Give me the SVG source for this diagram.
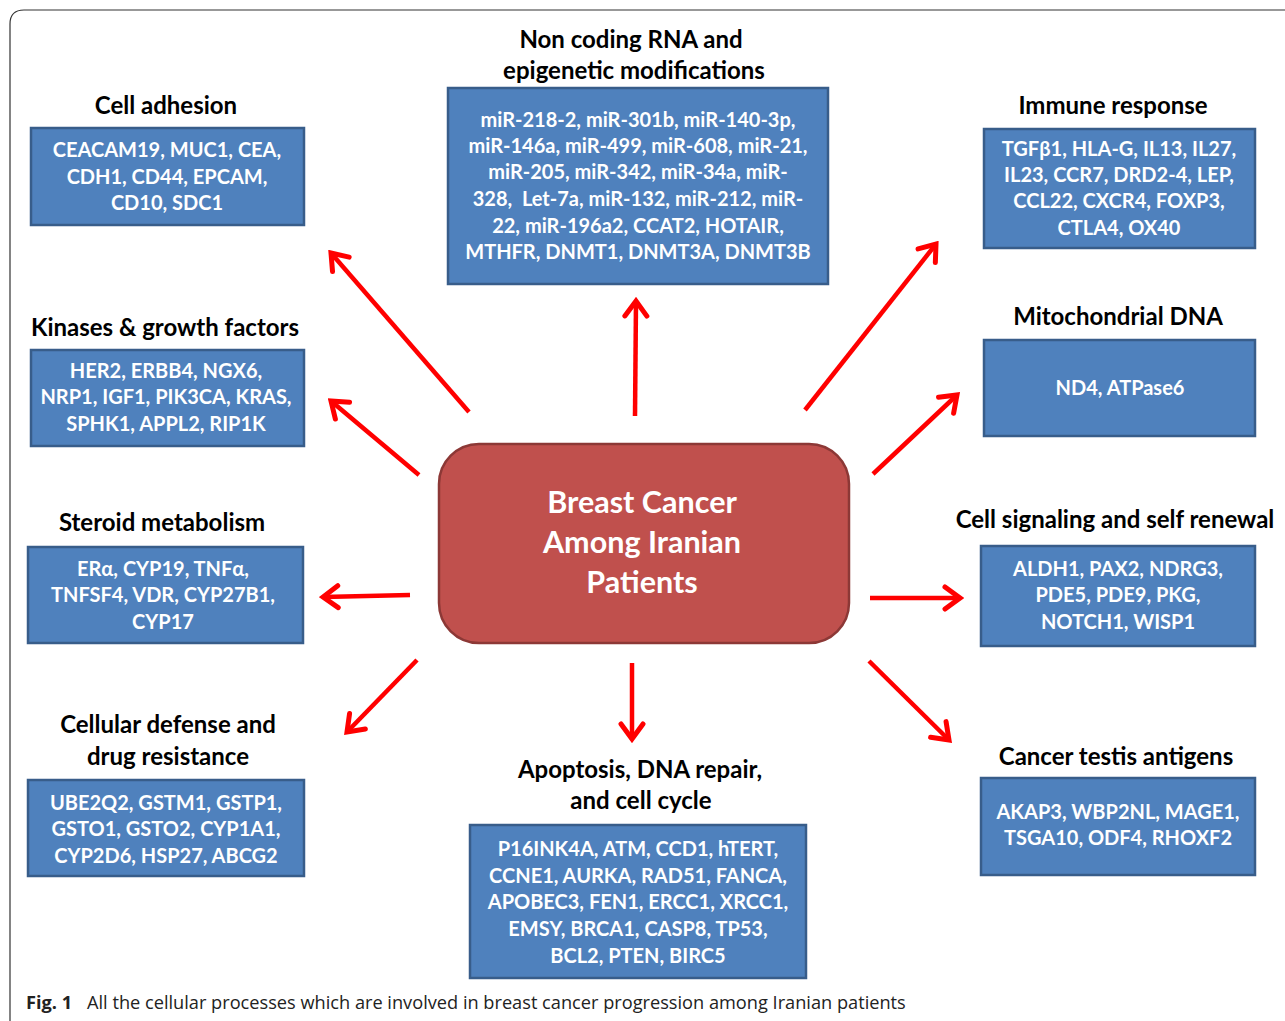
<svg xmlns="http://www.w3.org/2000/svg" width="1285" height="1021" viewBox="0 0 1285 1021">
<defs>
<style>
.box{fill:#4f81bd;stroke:#385d8a;stroke-width:2.5}
.bt{font-family:Lato,"Open Sans",sans-serif;font-weight:bold;font-size:20px;fill:#ffffff;text-anchor:middle}
.tt{font-family:Lato,"Open Sans",sans-serif;font-weight:bold;font-size:24px;fill:#000000;text-anchor:middle}
.ct{font-family:Lato,"Open Sans",sans-serif;font-weight:bold;font-size:30.5px;fill:#ffffff;text-anchor:middle}
.arr{stroke:#ff0000;stroke-width:4.5;fill:none;marker-end:url(#ah)}
.cap{font-family:"Open Sans","Noto Sans",sans-serif;font-size:18.2px;fill:#222}
</style>
<marker id="ah" markerUnits="userSpaceOnUse" viewBox="-20 -14 24 28" markerWidth="24" markerHeight="28" refX="0" refY="0" orient="auto">
<path d="M-15,-11 L0,0 L-15,11" fill="none" stroke="#ff0000" stroke-width="5" stroke-linecap="round" stroke-linejoin="miter"/>
</marker>
</defs>
<rect width="1285" height="1021" fill="#ffffff"/>
<path d="M10,1021 L10,24 Q10,10 24,10 L1285,10" fill="none" stroke="#333" stroke-width="1.2"/>

<g id="connectors">
<line class="arr" x1="469" y1="412" x2="331" y2="253"/>
<line class="arr" x1="635" y1="416" x2="636" y2="301"/>
<line class="arr" x1="805" y1="410" x2="936" y2="244"/>
<line class="arr" x1="419" y1="475" x2="331" y2="401"/>
<line class="arr" x1="873" y1="474" x2="957" y2="395"/>
<line class="arr" x1="410" y1="595" x2="323" y2="597"/>
<line class="arr" x1="870" y1="598" x2="960" y2="598"/>
<line class="arr" x1="417" y1="660" x2="347" y2="732"/>
<line class="arr" x1="632" y1="663" x2="632" y2="739"/>
<line class="arr" x1="869" y1="661" x2="949" y2="740"/>
</g>

<g id="center">
<rect x="439" y="444" width="410" height="199" rx="40" ry="40" fill="#c0504d" stroke="#8c3836" stroke-width="2.5"/>
<text class="ct" x="642" y="513">Breast Cancer</text>
<text class="ct" x="642" y="553">Among Iranian</text>
<text class="ct" x="642" y="593">Patients</text>
</g>

<g id="cell-adhesion">
<text class="tt" x="166" y="114">Cell adhesion</text>
<rect class="box" x="31" y="128" width="273" height="97"/>
<text class="bt" x="167" y="157">CEACAM19, MUC1, CEA,</text>
<text class="bt" x="167" y="184">CDH1, CD44, EPCAM,</text>
<text class="bt" x="167" y="210">CD10, SDC1</text>
</g>

<g id="noncoding">
<text class="tt" x="631" y="48">Non coding RNA and</text>
<text class="tt" x="634" y="79">epigenetic modifications</text>
<rect class="box" x="448" y="88" width="380" height="196"/>
<text class="bt" x="638" y="127">miR-218-2, miR-301b, miR-140-3p,</text>
<text class="bt" x="638" y="153">miR-146a, miR-499, miR-608, miR-21,</text>
<text class="bt" x="638" y="179">miR-205, miR-342, miR-34a, miR-</text>
<text class="bt" x="638" y="206" xml:space="preserve">328,  Let-7a, miR-132, miR-212, miR-</text>
<text class="bt" x="638" y="233">22, miR-196a2, CCAT2, HOTAIR,</text>
<text class="bt" x="638" y="259">MTHFR, DNMT1, DNMT3A, DNMT3B</text>
</g>

<g id="immune">
<text class="tt" x="1113" y="114">Immune response</text>
<rect class="box" x="984" y="129" width="271" height="119"/>
<text class="bt" x="1119" y="156">TGFβ1, HLA-G, IL13, IL27,</text>
<text class="bt" x="1119" y="182">IL23, CCR7, DRD2-4, LEP,</text>
<text class="bt" x="1119" y="208">CCL22, CXCR4, FOXP3,</text>
<text class="bt" x="1119" y="235">CTLA4, OX40</text>
</g>

<g id="mito">
<text class="tt" x="1118" y="325">Mitochondrial DNA</text>
<rect class="box" x="984" y="340" width="271" height="96"/>
<text class="bt" x="1120" y="395">ND4, ATPase6</text>
</g>

<g id="kinases">
<text class="tt" x="165" y="336">Kinases &amp; growth factors</text>
<rect class="box" x="31" y="350" width="273" height="96"/>
<text class="bt" x="166" y="378">HER2, ERBB4, NGX6,</text>
<text class="bt" x="166" y="404">NRP1, IGF1, PIK3CA, KRAS,</text>
<text class="bt" x="166" y="431">SPHK1, APPL2, RIP1K</text>
</g>

<g id="steroid">
<text class="tt" x="162" y="531">Steroid metabolism</text>
<rect class="box" x="28" y="547" width="275" height="96"/>
<text class="bt" x="163" y="576">ERα, CYP19, TNFα,</text>
<text class="bt" x="163" y="602">TNFSF4, VDR, CYP27B1,</text>
<text class="bt" x="163" y="629">CYP17</text>
</g>

<g id="defense">
<text class="tt" x="168" y="733">Cellular defense and</text>
<text class="tt" x="168" y="765">drug resistance</text>
<rect class="box" x="28" y="780" width="276" height="96"/>
<text class="bt" x="166" y="810">UBE2Q2, GSTM1, GSTP1,</text>
<text class="bt" x="166" y="836">GSTO1, GSTO2, CYP1A1,</text>
<text class="bt" x="166" y="863">CYP2D6, HSP27, ABCG2</text>
</g>

<g id="apoptosis">
<text class="tt" x="640" y="778">Apoptosis, DNA repair,</text>
<text class="tt" x="641" y="809">and cell cycle</text>
<rect class="box" x="470" y="825" width="336" height="153"/>
<text class="bt" x="638" y="856">P16INK4A, ATM, CCD1, hTERT,</text>
<text class="bt" x="638" y="883">CCNE1, AURKA, RAD51, FANCA,</text>
<text class="bt" x="638" y="909">APOBEC3, FEN1, ERCC1, XRCC1,</text>
<text class="bt" x="638" y="936">EMSY, BRCA1, CASP8, TP53,</text>
<text class="bt" x="638" y="963">BCL2, PTEN, BIRC5</text>
</g>

<g id="signaling">
<text class="tt" x="1115" y="528">Cell signaling and self renewal</text>
<rect class="box" x="981" y="546" width="274" height="100"/>
<text class="bt" x="1118" y="576">ALDH1, PAX2, NDRG3,</text>
<text class="bt" x="1118" y="602">PDE5, PDE9, PKG,</text>
<text class="bt" x="1118" y="629">NOTCH1, WISP1</text>
</g>

<g id="testis">
<text class="tt" x="1116" y="765">Cancer testis antigens</text>
<rect class="box" x="981" y="778" width="274" height="97"/>
<text class="bt" x="1118" y="819">AKAP3, WBP2NL, MAGE1,</text>
<text class="bt" x="1118" y="845">TSGA10, ODF4, RHOXF2</text>
</g>

<g id="caption">
<text class="cap" x="26" y="1009"><tspan font-weight="bold">Fig. 1</tspan><tspan x="87">All the cellular processes which are involved in breast cancer progression among Iranian patients</tspan></text>
</g>
</svg>
